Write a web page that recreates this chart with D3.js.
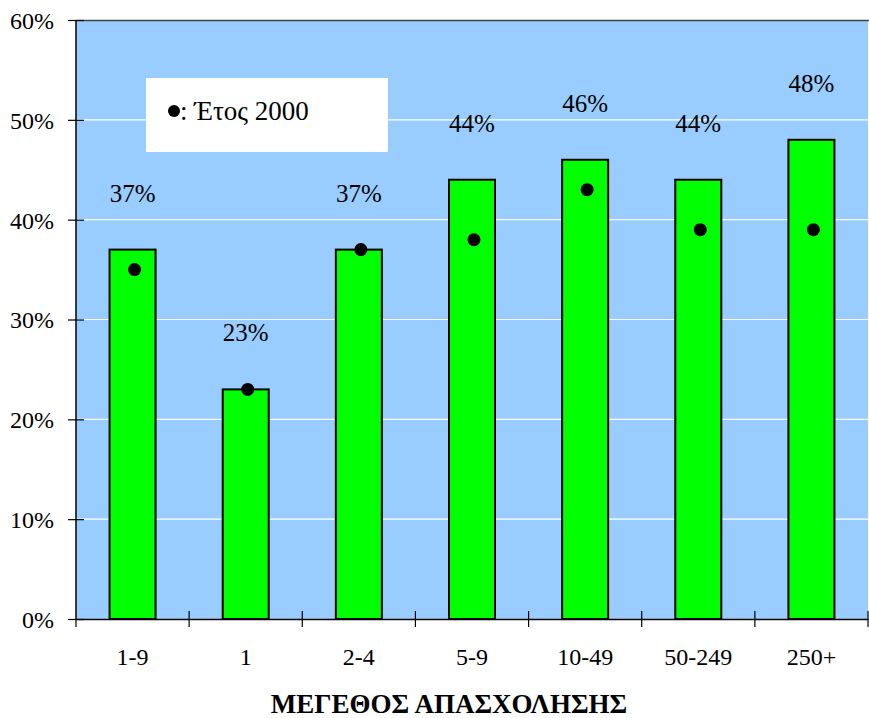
<!DOCTYPE html>
<html><head><meta charset="utf-8">
<script src="https://cdn.jsdelivr.net/npm/d3@7"></script>
<style>body{margin:0;background:#fff}svg{display:block}svg text{font-family:"Liberation Serif","Times New Roman","DejaVu Serif",serif !important;}</style>
</head><body>
<script>
const categories = ["1-9","1","2-4","5-9","10-49","50-249","250+"];
const values2001 = [37,23,37,44,46,44,48];
const values2000 = [35,23,37,38,43,39,39];
const yTicks = [0,10,20,30,40,50,60];
const xTitle = "ΜΕΓΕΘΟΣ ΑΠΑΣΧΟΛΗΣΗΣ";
const legendText = ": Έτος 2000";

const W=869,H=718;
const m={left:76,right:1,top:20,bottom:99};
const svg=d3.select("body").append("svg").attr("width",W).attr("height",H);
const x=d3.scaleBand().domain(categories).range([m.left,W-m.right]);
const y=d3.scaleLinear().domain([0,60]).range([H-m.bottom,m.top]);

svg.append("rect").attr("x",m.left).attr("y",m.top).attr("width",W-m.right-m.left).attr("height",y(0)-m.top).attr("fill","#99ccff");
svg.append("g").selectAll("line").data(yTicks.filter(d=>d>0&&d<60)).join("line")
  .attr("x1",m.left).attr("x2",W-m.right).attr("y1",d=>y(d)).attr("y2",d=>y(d))
  .attr("stroke","#ffffff").attr("stroke-width",1.2);
svg.append("line").attr("x1",m.left).attr("x2",W).attr("y1",m.top+0.5).attr("y2",m.top+0.5).attr("stroke","#444").attr("stroke-width",1.5);

// legend
svg.append("rect").attr("x",146).attr("y",78).attr("width",242).attr("height",74).attr("fill","#fff");
svg.append("circle").attr("cx",174).attr("cy",111).attr("r",6).attr("fill","#000");
svg.append("text").attr("x",180).attr("y",120).attr("font-size",27).text(legendText);

const bw=46;
svg.append("g").selectAll("rect").data(categories).join("rect")
  .attr("x",(d)=>x(d)+x.bandwidth()/2-bw/2).attr("width",bw)
  .attr("y",(d,i)=>y(values2001[i])).attr("height",(d,i)=>y(0)-y(values2001[i]))
  .attr("fill","#00ff00").attr("stroke","#000").attr("stroke-width",2);

svg.append("g").selectAll("text").data(categories).join("text")
  .attr("x",d=>x(d)+x.bandwidth()/2).attr("y",(d,i)=>y(values2001[i])-48)
  .attr("text-anchor","middle").attr("font-size",25)
  .text((d,i)=>values2001[i]+"%");

svg.append("g").selectAll("circle").data(categories).join("circle")
  .attr("cx",d=>x(d)+x.bandwidth()/2+2).attr("cy",(d,i)=>y(values2000[i])).attr("r",6.5).attr("fill","#000");

// y axis
const ya=svg.append("g").attr("transform",`translate(${m.left},0)`)
  .call(d3.axisLeft(y).tickValues(yTicks).tickFormat(d=>d+"%").tickSize(8).tickPadding(14));
ya.select(".domain").attr("stroke","#000").attr("stroke-width",1.5).attr("d",`M0,${m.top}V${y(0)}`);
ya.selectAll(".tick line").attr("x2",-8).attr("x1",8).attr("stroke","#000").attr("stroke-width",1.2);
ya.selectAll("text").attr("font-size",24).attr("fill","#000").attr("dy","0.35em");

// x axis
const xa=svg.append("g").attr("transform",`translate(0,${y(0)})`)
  .call(d3.axisBottom(x).tickSize(0).tickPadding(29));
xa.select(".domain").attr("stroke","#000").attr("stroke-width",1.5);
xa.selectAll("text").attr("font-size",24).attr("fill","#000");
const bounds=categories.map(d=>x(d)).concat([W-m.right]);
svg.append("g").selectAll("line").data(bounds).join("line")
  .attr("x1",d=>d).attr("x2",d=>d).attr("y1",(d,i)=>i===0?y(0):y(0)-8).attr("y2",y(0)+8)
  .attr("stroke","#000").attr("stroke-width",1.2);

svg.append("text").attr("x",449).attr("y",713).attr("text-anchor","middle")
  .attr("font-size",27).attr("font-weight","bold").text(xTitle);
</script>
</body></html>
